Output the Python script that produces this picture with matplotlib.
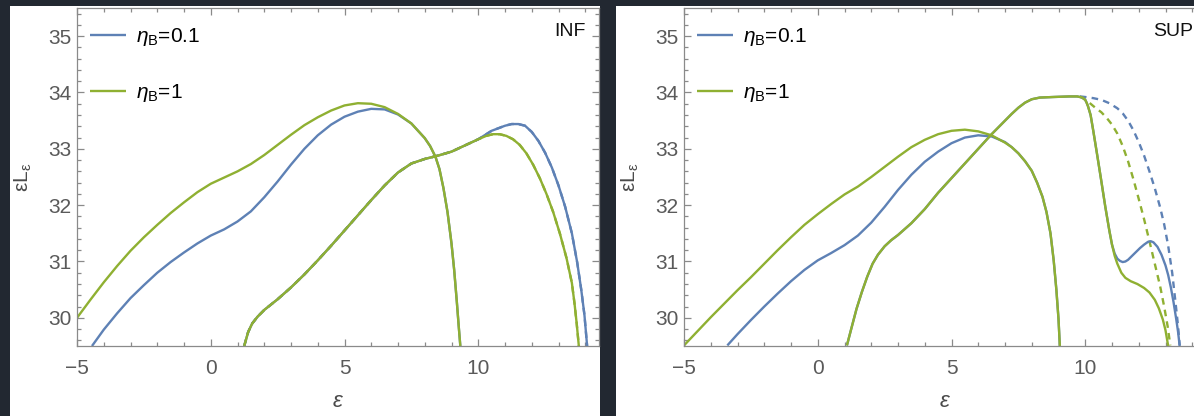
import matplotlib.pyplot as plt
from matplotlib.patches import Rectangle
from matplotlib.ticker import MultipleLocator

BLUE = '#5e81b5'
GREEN = '#8fb032'

# ---- INF ----
inf_lo_x_b = [-4.44, -4.0, -3.5, -3.0, -2.5, -2.0, -1.5, -1.0, -0.5, 0.0, 0.5, 1.0, 1.5, 2.0, 2.5, 3.0,
              3.5, 4.0, 4.5, 5.0, 5.5, 6.0, 6.5, 7.0, 7.5, 8.0, 8.2, 8.4, 8.55, 8.7, 8.85, 9.0, 9.1,
              9.2, 9.27, 9.33]
inf_lo_y_b = [29.5, 29.79, 30.08, 30.35, 30.58, 30.8, 30.99, 31.16, 31.32, 31.46, 31.57, 31.71, 31.89,
              32.14, 32.42, 32.72, 33.0, 33.24, 33.43, 33.57, 33.66, 33.71, 33.7, 33.61, 33.45, 33.19,
              33.05, 32.86, 32.64, 32.3, 31.88, 31.32, 30.85, 30.28, 29.85, 29.5]
inf_lo_x_g = [-5.0, -4.5, -4.0, -3.5, -3.0, -2.5, -2.0, -1.5, -1.0, -0.5, 0.0, 0.5, 1.0, 1.5, 2.0, 2.5,
              3.0, 3.5, 4.0, 4.5, 5.0, 5.5, 6.0, 6.5, 7.0, 7.5, 8.0, 8.2, 8.4, 8.55, 8.7, 8.85, 9.0,
              9.1, 9.2, 9.27, 9.33]
inf_lo_y_g = [30.0, 30.32, 30.63, 30.92, 31.19, 31.43, 31.65, 31.86, 32.05, 32.23, 32.38, 32.49, 32.6,
              32.73, 32.89, 33.07, 33.25, 33.42, 33.56, 33.68, 33.77, 33.81, 33.8, 33.74, 33.62, 33.45,
              33.19, 33.05, 32.86, 32.64, 32.3, 31.88, 31.32, 30.85, 30.28, 29.85, 29.5]
inf_hi_x = [1.25, 1.4, 1.55, 1.75, 2.0, 2.5, 3.0, 3.5, 4.0, 4.5, 5.0, 5.5, 6.0, 6.5, 7.0, 7.5, 8.0, 8.5,
            9.0, 9.5, 10.0]
inf_hi_y = [29.5, 29.75, 29.9, 30.02, 30.14, 30.33, 30.54, 30.77, 31.02, 31.28, 31.55, 31.82, 32.09,
            32.35, 32.58, 32.74, 32.82, 32.88, 32.95, 33.06, 33.17]
inf_hi_x_b = inf_hi_x + [10.5, 11.0, 11.25, 11.5, 11.75, 12.0, 12.25, 12.5, 12.75, 13.0, 13.25, 13.5,
                         13.7, 13.85, 13.97, 14.07]
inf_hi_y_b = inf_hi_y + [33.32, 33.41, 33.44, 33.44, 33.41, 33.3, 33.14, 32.93, 32.67, 32.35, 31.97,
                         31.5, 30.98, 30.5, 30.05, 29.5]
inf_hi_x_g = inf_hi_x + [10.3, 10.55, 10.8, 11.05, 11.3, 11.55, 11.8, 12.05, 12.3, 12.55, 12.8, 13.05,
                         13.3, 13.5, 13.6, 13.68, 13.76]
inf_hi_y_g = inf_hi_y + [33.23, 33.26, 33.26, 33.23, 33.17, 33.07, 32.92, 32.72, 32.48, 32.2, 31.88,
                         31.5, 31.06, 30.62, 30.25, 29.9, 29.5]

# ---- SUP ----
sup_lo_x_b = [-3.38, -3.0, -2.5, -2.0, -1.5, -1.0, -0.5, 0.0, 0.5, 1.0, 1.5, 2.0, 2.5, 3.0, 3.5, 4.0, 4.5,
              5.0, 5.5, 6.0, 6.5, 7.0, 7.25, 7.5, 7.75, 8.0, 8.2, 8.4, 8.55, 8.7, 8.82, 8.92, 9.0, 9.05]
sup_lo_y_b = [29.51, 29.71, 29.96, 30.2, 30.43, 30.65, 30.85, 31.02, 31.15, 31.29, 31.46, 31.69, 31.97,
              32.27, 32.54, 32.77, 32.95, 33.1, 33.2, 33.24, 33.22, 33.12, 33.03, 32.92, 32.78, 32.61,
              32.4, 32.15, 31.88, 31.5, 31.02, 30.5, 29.98, 29.5]
sup_lo_x_g = [-5.0, -4.5, -4.0, -3.5, -3.0, -2.5, -2.0, -1.5, -1.0, -0.5, 0.0, 0.5, 1.0, 1.5, 2.0, 2.5,
              3.0, 3.5, 4.0, 4.5, 5.0, 5.5, 6.0, 6.5, 7.0, 7.25, 7.5, 7.75, 8.0, 8.2, 8.4, 8.55, 8.7,
              8.82, 8.92, 9.0, 9.05]
sup_lo_y_g = [29.51, 29.76, 30.01, 30.25, 30.49, 30.72, 30.96, 31.2, 31.43, 31.65, 31.84, 32.02, 32.19,
              32.33, 32.5, 32.68, 32.86, 33.03, 33.16, 33.26, 33.32, 33.34, 33.31, 33.24, 33.11, 33.03,
              32.92, 32.78, 32.61, 32.4, 32.15, 31.88, 31.5, 31.02, 30.5, 29.98, 29.5]
sup_hi_x = [1.09, 1.25, 1.45, 1.65, 1.85, 2.05, 2.25, 2.5, 2.75, 3.0, 3.5, 4.0, 4.5, 5.0, 5.5, 6.0, 6.5,
            7.0, 7.25, 7.5, 7.75, 8.0, 8.3, 8.8, 9.4, 9.7, 9.9, 10.0, 10.05, 10.1, 10.2, 10.3, 10.45,
            10.6, 10.75, 10.9, 11.0]
sup_hi_y = [29.51, 29.8, 30.16, 30.46, 30.73, 30.96, 31.12, 31.27, 31.38, 31.47, 31.68, 31.93, 32.22,
            32.48, 32.74, 33.0, 33.26, 33.5, 33.62, 33.73, 33.82, 33.88, 33.91, 33.92, 33.93, 33.93,
            33.91, 33.87, 33.82, 33.76, 33.6, 33.32, 32.88, 32.43, 31.97, 31.55, 31.3]
sup_hi_x_b = sup_hi_x + [11.1, 11.2, 11.3, 11.4, 11.5, 11.6, 11.75, 11.9, 12.05, 12.2, 12.35, 12.45,
                         12.55, 12.7, 12.85, 13.0, 13.1, 13.2, 13.3, 13.4, 13.47, 13.53]
sup_hi_y_b = sup_hi_y + [31.14, 31.05, 31.01, 30.99, 31.0, 31.03, 31.1, 31.17, 31.24, 31.3, 31.35, 31.36,
                         31.34, 31.26, 31.12, 30.93, 30.76, 30.54, 30.28, 29.98, 29.75, 29.5]
sup_hi_x_g = sup_hi_x + [11.1, 11.2, 11.35, 11.5, 11.7, 11.95, 12.2, 12.4, 12.6, 12.75, 12.9, 13.0, 13.1]
sup_hi_y_g = sup_hi_y + [31.1, 30.96, 30.8, 30.71, 30.65, 30.6, 30.53, 30.45, 30.32, 30.17, 29.97, 29.78,
                         29.5]
# dashed branches (no secondary bump)
sup_dash_x_b = [9.8, 10.0, 10.3, 10.6, 10.9, 11.2, 11.4, 11.6, 11.8, 12.0, 12.2, 12.4, 12.6, 12.8, 12.95,
                13.1, 13.25, 13.38, 13.47, 13.53]
sup_dash_y_b = [33.93, 33.92, 33.9, 33.87, 33.81, 33.72, 33.63, 33.5, 33.33, 33.12, 32.88, 32.6, 32.3,
                31.96, 31.66, 31.28, 30.8, 30.25, 29.85, 29.51]
sup_dash_x_g = [9.8, 10.0, 10.2, 10.4, 10.6, 10.8, 11.0, 11.2, 11.4, 11.6, 11.8, 12.0, 12.2, 12.4, 12.6,
                12.8, 12.95, 13.08, 13.18]
sup_dash_y_g = [33.93, 33.87, 33.8, 33.72, 33.65, 33.55, 33.43, 33.27, 33.05, 32.78, 32.46, 32.11, 31.75,
                31.36, 30.96, 30.56, 30.2, 29.85, 29.51]

labels = [r'$\eta_\mathrm{B}$=0.1', r'$\eta_\mathrm{B}$=1']

plt.rcParams['font.family'] = ['Liberation Sans', 'DejaVu Sans']
plt.rcParams['mathtext.fontset'] = 'custom'
plt.rcParams['mathtext.rm'] = 'Liberation Sans'
plt.rcParams['mathtext.it'] = 'Liberation Sans:italic'

W, H = 1194, 416
fig = plt.figure(figsize=(W / 100, H / 100), dpi=100)
fig.patch.set_facecolor('#222831')
fig.patches.append(Rectangle((10 / W, 0), 590 / W, 410 / H, transform=fig.transFigure,
                             facecolor='white', edgecolor='none', zorder=-10))
fig.patches.append(Rectangle((616 / W, 0), 578 / W, 410 / H, transform=fig.transFigure,
                             facecolor='white', edgecolor='none', zorder=-10))

px = 26.75
ax1 = fig.add_axes([77 / W, 70 / H, 19.5 * px / W, 338 / H])
ax2 = fig.add_axes([684 / W, 70 / H, 19.5 * px / W, 338 / H])

dash = dict(lw=1.7, ls=(0, (2.8, 2.2)))
solid = dict(lw=1.7, solid_capstyle='butt')

ax1.plot(inf_hi_x_b, inf_hi_y_b, color=BLUE, **dash)
ax1.plot(inf_hi_x_g, inf_hi_y_g, color=GREEN, **dash)
ax1.plot(inf_lo_x_b, inf_lo_y_b, color=BLUE, label=labels[0], **solid)
ax1.plot(inf_hi_x_b, inf_hi_y_b, color=BLUE, **solid)
ax1.plot(inf_lo_x_g, inf_lo_y_g, color=GREEN, label=labels[1], **solid)
ax1.plot(inf_hi_x_g, inf_hi_y_g, color=GREEN, **solid)

ax2.plot(sup_dash_x_b, sup_dash_y_b, color=BLUE, **dash)
ax2.plot(sup_dash_x_g, sup_dash_y_g, color=GREEN, **dash)
ax2.plot(sup_lo_x_b, sup_lo_y_b, color=BLUE, label=labels[0], **solid)
ax2.plot(sup_hi_x_b, sup_hi_y_b, color=BLUE, **solid)
ax2.plot(sup_lo_x_g, sup_lo_y_g, color=GREEN, label=labels[1], **solid)
ax2.plot(sup_hi_x_g, sup_hi_y_g, color=GREEN, **solid)

for ax, tag in [(ax1, 'INF'), (ax2, 'SUP')]:
    ax.set_xlim(-5, 14.5)
    ax.set_ylim(29.5, 35.5)
    ax.xaxis.set_major_locator(MultipleLocator(5))
    ax.xaxis.set_minor_locator(MultipleLocator(1))
    ax.yaxis.set_major_locator(MultipleLocator(1))
    ax.yaxis.set_minor_locator(MultipleLocator(0.2))
    ax.tick_params(which='both', direction='in', top=True, right=True, color='#8a8a8a',
                   labelcolor='#5a5a5a', labelsize=15, width=0.9)
    ax.tick_params(which='major', length=5)
    ax.tick_params(which='minor', length=3)
    ax.tick_params(axis='x', which='major', pad=9)
    ax.tick_params(axis='y', which='major', pad=4)
    for s in ax.spines.values():
        s.set_color('#8a8a8a')
        s.set_linewidth(0.9)
    ax.set_xlabel('ε', fontsize=16, style='italic', color='#4a4a4a', labelpad=10)
    ax.set_ylabel(r'εL$_\mathrm{ε}$', fontsize=15, color='#4a4a4a', labelpad=10)
    ax.text(1 - 13 / (19.5 * px), 1 - 24 / 338, tag, transform=ax.transAxes,
            ha='right', va='center', fontsize=14, color='#111111')
    ax.legend(loc='upper left', bbox_to_anchor=(0.0, 1 - 5 / 338), frameon=False, fontsize=15,
              handlelength=1.73, handletextpad=0.48, labelspacing=1.66, borderaxespad=0.0,
              borderpad=0.62)

fig.savefig('out.png', dpi=100, facecolor=fig.get_facecolor())
